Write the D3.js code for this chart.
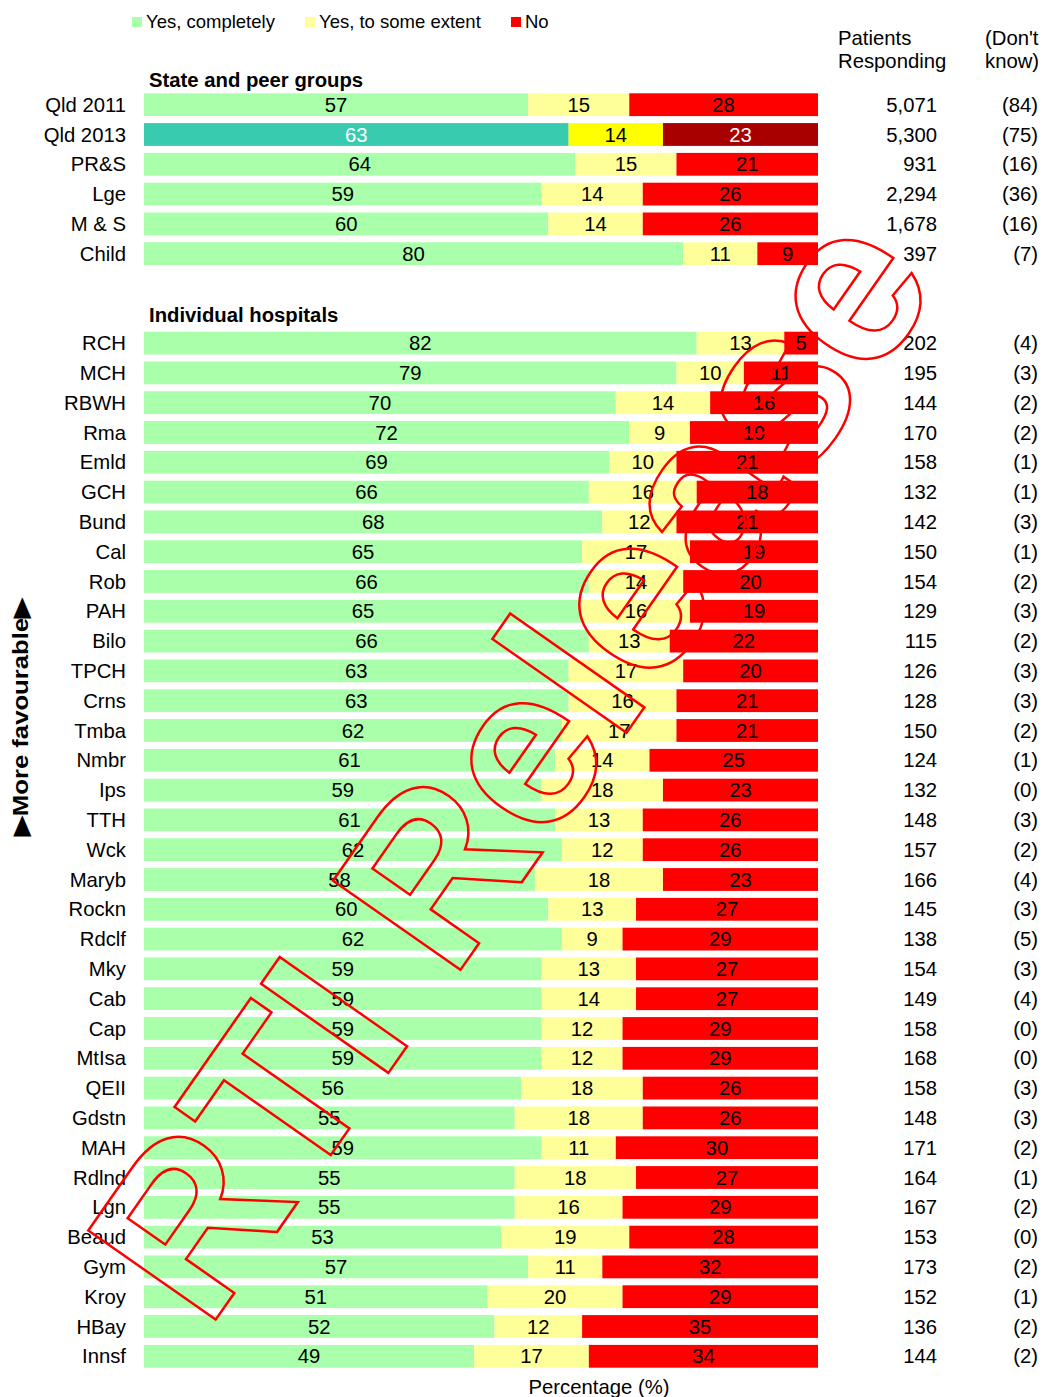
<!DOCTYPE html>
<html>
<head>
<meta charset="utf-8">
<script src="https://cdn.jsdelivr.net/npm/d3@7/dist/d3.min.js"></script>
<style>
  html, body { margin: 0; padding: 0; background: #fff; }
  svg text { font-family: "Liberation Sans", Arial, sans-serif; }
</style>
</head>
<body>
<svg id="chart" width="1043" height="1397"></svg>
<script>
// Patient survey: "Were you involved in decisions about your care?" (percent of respondents)

// State and peer groups
const stateGroups = ["Qld 2011", "Qld 2013", "PR&S", "Lge", "M & S", "Child"];
const stateYes    = [57, 63, 64, 59, 60, 80];
const stateSome   = [15, 14, 15, 14, 14, 11];
const stateNo     = [28, 23, 21, 26, 26, 9];
const stateN      = ["5,071", "5,300", "931", "2,294", "1,678", "397"];
const stateDK     = ["(84)", "(75)", "(16)", "(36)", "(16)", "(7)"];

// Individual hospitals
const hospitals = ["RCH", "MCH", "RBWH", "Rma", "Emld", "GCH", "Bund", "Cal", "Rob", "PAH",
  "Bilo", "TPCH", "Crns", "Tmba", "Nmbr", "Ips", "TTH", "Wck", "Maryb", "Rockn",
  "Rdclf", "Mky", "Cab", "Cap", "MtIsa", "QEII", "Gdstn", "MAH", "Rdlnd", "Lgn",
  "Beaud", "Gym", "Kroy", "HBay", "Innsf"];
const hospYes  = [82, 79, 70, 72, 69, 66, 68, 65, 66, 65, 66, 63, 63, 62, 61, 59, 61, 62, 58, 60,
  62, 59, 59, 59, 59, 56, 55, 59, 55, 55, 53, 57, 51, 52, 49];
const hospSome = [13, 10, 14, 9, 10, 16, 12, 17, 14, 16, 13, 17, 16, 17, 14, 18, 13, 12, 18, 13,
  9, 13, 14, 12, 12, 18, 18, 11, 18, 16, 19, 11, 20, 12, 17];
const hospNo   = [5, 11, 16, 19, 21, 18, 21, 19, 20, 19, 22, 20, 21, 21, 25, 23, 26, 26, 23, 27,
  29, 27, 27, 29, 29, 26, 26, 30, 27, 29, 28, 32, 29, 35, 34];
const hospN    = ["202", "195", "144", "170", "158", "132", "142", "150", "154", "129",
  "115", "126", "128", "150", "124", "132", "148", "157", "166", "145",
  "138", "154", "149", "158", "168", "158", "148", "171", "164", "167",
  "153", "173", "152", "136", "144"];
const hospDK   = ["(4)", "(3)", "(2)", "(2)", "(1)", "(1)", "(3)", "(1)", "(2)", "(3)",
  "(2)", "(3)", "(3)", "(2)", "(1)", "(0)", "(3)", "(2)", "(4)", "(3)",
  "(5)", "(3)", "(4)", "(0)", "(0)", "(3)", "(3)", "(2)", "(1)", "(2)",
  "(0)", "(2)", "(1)", "(2)", "(2)"];

const seriesNames = ["Yes, completely", "Yes, to some extent", "No"];
const highlightRow = "Qld 2013";

const colors = { yes: "#AAFFAA", some: "#FFFF99", no: "#FF0000" };
const highlightColors = { yes: "#39CBB0", some: "#FFFF00", no: "#A80000" };
const highlightText = { yes: "#FFFFFF", some: "#000000", no: "#FFFFFF" };

// Assemble rows
const rows = [];
stateGroups.forEach((c, i) => rows.push({ key: c, label: c, yes: stateYes[i], some: stateSome[i], no: stateNo[i], n: stateN[i], dk: stateDK[i] }));
hospitals.forEach((c, i) => rows.push({ key: c, label: c, yes: hospYes[i], some: hospSome[i], no: hospNo[i], n: hospN[i], dk: hospDK[i] }));

const bandKeys = [...stateGroups, "__gap1", "__gap2", ...hospitals];

const svg = d3.select("#chart");
const FONT = 20.3;

const x = d3.scaleLinear().domain([0, 100]).range([144, 818]);
const y = d3.scaleBand().domain(bandKeys).range([89.8, 1371.2]).paddingInner(0.235).paddingOuter(0.1175);
const bw = y.bandwidth();

// Segments: green from the left, red anchored at the right, yellow between
const segs = [];
rows.forEach(r => {
  const hl = r.key === highlightRow;
  segs.push({ row: r, part: "yes", v: r.yes, x0: 0, x1: r.yes, hl });
  segs.push({ row: r, part: "some", v: r.some, x0: r.yes, x1: 100 - r.no, hl });
  segs.push({ row: r, part: "no", v: r.no, x0: 100 - r.no, x1: 100, hl });
});

const bars = svg.append("g").attr("class", "bars");
bars.selectAll("rect").data(segs).join("rect")
  .attr("x", d => x(d.x0))
  .attr("y", d => y(d.row.key))
  .attr("width", d => x(d.x1) - x(d.x0))
  .attr("height", bw)
  .attr("fill", d => (d.hl ? highlightColors : colors)[d.part]);

bars.selectAll("text").data(segs).join("text")
  .attr("x", d => (x(d.x0) + x(d.x1)) / 2)
  .attr("y", d => y(d.row.key) + bw / 2 + 7)
  .attr("text-anchor", "middle")
  .attr("font-size", FONT)
  .attr("fill", d => d.hl ? highlightText[d.part] : "#000")
  .text(d => d.v);

// Category labels
svg.append("g").selectAll("text").data(rows).join("text")
  .attr("x", 126)
  .attr("y", d => y(d.key) + bw / 2 + 7)
  .attr("text-anchor", "end")
  .attr("font-size", FONT)
  .attr("fill", "#000")
  .text(d => d.label);

// Patients responding column
svg.append("g").selectAll("text").data(rows).join("text")
  .attr("x", 937)
  .attr("y", d => y(d.key) + bw / 2 + 7)
  .attr("text-anchor", "end")
  .attr("font-size", FONT)
  .text(d => d.n);

// Don't know column
svg.append("g").selectAll("text").data(rows).join("text")
  .attr("x", 1038)
  .attr("y", d => y(d.key) + bw / 2 + 7)
  .attr("text-anchor", "end")
  .attr("font-size", FONT)
  .text(d => d.dk);

// Column headers
const hdr = svg.append("g").attr("font-size", FONT);
hdr.append("text").attr("x", 838).attr("y", 45).text("Patients");
hdr.append("text").attr("x", 838).attr("y", 68).text("Responding");
hdr.append("text").attr("x", 985).attr("y", 45).text("(Don't");
hdr.append("text").attr("x", 985).attr("y", 68).text("know)");

// Section headings
svg.append("text").attr("x", 149).attr("y", 87).attr("font-size", FONT).attr("font-weight", "bold").text("State and peer groups");
svg.append("text").attr("x", 149).attr("y", 322).attr("font-size", FONT).attr("font-weight", "bold").text("Individual hospitals");

// Legend
const legendX = [132, 305, 511];
const legendColors = [colors.yes, colors.some, colors.no];
const lg = svg.append("g");
seriesNames.forEach((s, i) => {
  lg.append("rect").attr("x", legendX[i]).attr("y", 17).attr("width", 10).attr("height", 10).attr("fill", legendColors[i]);
  lg.append("text").attr("x", legendX[i] + 14).attr("y", 28).attr("font-size", 18.5).text(s);
});

// Axis titles
svg.append("text").attr("x", 599).attr("y", 1394).attr("text-anchor", "middle").attr("font-size", FONT).text("Percentage (%)");
svg.append("text")
  .attr("transform", "translate(28,717) rotate(-90)")
  .attr("text-anchor", "middle")
  .attr("font-size", 22)
  .attr("font-weight", "bold")
  .attr("textLength", 238)
  .attr("lengthAdjust", "spacingAndGlyphs")
  .text("\u25B6More favourable\u25B6");

// Release stamp
svg.append("text")
  .attr("transform", "translate(207,1332) rotate(-55)")
  .attr("font-size", 226)
  .attr("font-weight", "bold")
  .attr("fill", "none")
  .attr("stroke", "#FF0000")
  .attr("stroke-width", 2.5)
  .text("RTI Release");
</script>
</body>
</html>
